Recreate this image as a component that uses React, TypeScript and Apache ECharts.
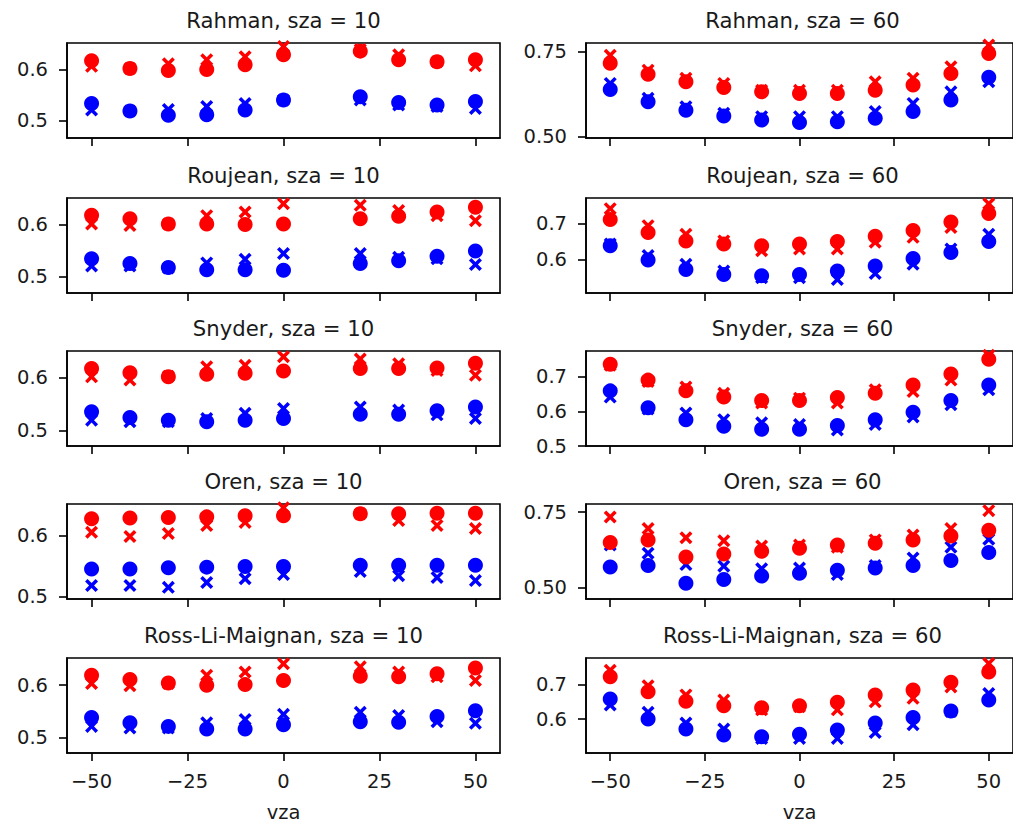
import React, { useEffect, useRef } from "react";
import * as echarts from "echarts";

// ---------- data ----------
const VZA_10 = [-50, -40, -30, -20, -10, 0, 20, 30, 40, 50];
const VZA_60 = [-50, -40, -30, -20, -10, 0, 10, 20, 30, 40, 50];
const MODELS = ["Rahman", "Roujean", "Snyder", "Oren", "Ross-Li-Maignan"];
const SZAS = [10, 60];
const X_TICKS = [-50, -25, 0, 25, 50];

// sza = 10
const rahman10RedDot = [0.618, 0.603, 0.599, 0.601, 0.61, 0.63, 0.637, 0.62, 0.616, 0.62];
const rahman10RedCross = [0.607, 0.603, 0.612, 0.62, 0.626, 0.646, 0.64, 0.63, 0.616, 0.608];
const rahman10BlueDot = [0.534, 0.519, 0.511, 0.512, 0.521, 0.541, 0.547, 0.536, 0.531, 0.538];
const rahman10BlueCross = [0.521, 0.519, 0.522, 0.528, 0.534, 0.541, 0.541, 0.531, 0.528, 0.524];

const roujean10RedDot = [0.619, 0.612, 0.602, 0.602, 0.601, 0.602, 0.612, 0.617, 0.625, 0.634];
const roujean10RedCross = [0.602, 0.599, 0.602, 0.618, 0.625, 0.641, 0.638, 0.628, 0.618, 0.608];
const roujean10BlueDot = [0.535, 0.526, 0.518, 0.514, 0.514, 0.513, 0.526, 0.531, 0.54, 0.55];
const roujean10BlueCross = [0.521, 0.521, 0.517, 0.527, 0.534, 0.545, 0.545, 0.538, 0.535, 0.524];

const snyder10RedDot = [0.618, 0.61, 0.602, 0.607, 0.609, 0.613, 0.618, 0.618, 0.619, 0.628];
const snyder10RedCross = [0.602, 0.596, 0.603, 0.621, 0.624, 0.64, 0.636, 0.627, 0.614, 0.605];
const snyder10BlueDot = [0.536, 0.525, 0.52, 0.517, 0.52, 0.523, 0.531, 0.531, 0.538, 0.545];
const snyder10BlueCross = [0.52, 0.517, 0.517, 0.523, 0.533, 0.542, 0.545, 0.539, 0.53, 0.523];

const oren10RedDot = [0.627, 0.628, 0.629, 0.63, 0.632, 0.632, 0.635, 0.635, 0.636, 0.636];
const oren10RedCross = [0.605, 0.598, 0.603, 0.616, 0.621, 0.645, 0.635, 0.624, 0.616, 0.611];
const oren10BlueDot = [0.545, 0.545, 0.547, 0.548, 0.549, 0.549, 0.551, 0.551, 0.551, 0.551];
const oren10BlueCross = [0.518, 0.518, 0.515, 0.523, 0.529, 0.536, 0.541, 0.534, 0.531, 0.526];

const rlm10RedDot = [0.619, 0.611, 0.604, 0.6, 0.601, 0.609, 0.617, 0.616, 0.622, 0.633];
const rlm10RedCross = [0.603, 0.599, 0.603, 0.619, 0.625, 0.641, 0.635, 0.625, 0.616, 0.609];
const rlm10BlueDot = [0.538, 0.528, 0.521, 0.516, 0.516, 0.524, 0.53, 0.529, 0.54, 0.551];
const rlm10BlueCross = [0.521, 0.518, 0.518, 0.528, 0.534, 0.544, 0.548, 0.542, 0.53, 0.527];

// sza = 60
const rahman60RedDot = [0.716, 0.684, 0.662, 0.645, 0.632, 0.627, 0.627, 0.637, 0.652, 0.686, 0.745];
const rahman60RedCross = [0.74, 0.696, 0.672, 0.657, 0.637, 0.637, 0.637, 0.662, 0.672, 0.706, 0.77];
const rahman60BlueDot = [0.639, 0.603, 0.578, 0.561, 0.549, 0.542, 0.544, 0.554, 0.574, 0.608, 0.675];
const rahman60BlueCross = [0.657, 0.613, 0.588, 0.569, 0.559, 0.559, 0.559, 0.574, 0.598, 0.632, 0.662];

const roujean60RedDot = [0.712, 0.676, 0.652, 0.643, 0.638, 0.643, 0.65, 0.665, 0.681, 0.705, 0.729];
const roujean60RedCross = [0.743, 0.695, 0.671, 0.652, 0.624, 0.629, 0.629, 0.648, 0.662, 0.69, 0.757];
const roujean60BlueDot = [0.638, 0.598, 0.571, 0.557, 0.554, 0.557, 0.567, 0.581, 0.602, 0.619, 0.65];
const roujean60BlueCross = [0.643, 0.611, 0.586, 0.567, 0.548, 0.548, 0.543, 0.56, 0.586, 0.629, 0.671];

const snyder60RedDot = [0.736, 0.69, 0.659, 0.641, 0.631, 0.631, 0.64, 0.652, 0.676, 0.708, 0.75];
const snyder60RedCross = [0.733, 0.686, 0.67, 0.652, 0.624, 0.638, 0.624, 0.662, 0.657, 0.69, 0.762];
const snyder60BlueDot = [0.659, 0.61, 0.576, 0.557, 0.548, 0.548, 0.559, 0.576, 0.597, 0.631, 0.676];
const snyder60BlueCross = [0.641, 0.607, 0.595, 0.576, 0.567, 0.562, 0.546, 0.562, 0.584, 0.619, 0.662];

const oren60RedDot = [0.649, 0.658, 0.601, 0.611, 0.62, 0.63, 0.641, 0.647, 0.658, 0.671, 0.69];
const oren60RedCross = [0.734, 0.696, 0.665, 0.655, 0.638, 0.641, 0.634, 0.658, 0.674, 0.696, 0.755];
const oren60BlueDot = [0.568, 0.573, 0.514, 0.527, 0.538, 0.547, 0.557, 0.565, 0.573, 0.59, 0.616];
const oren60BlueCross = [0.641, 0.614, 0.576, 0.571, 0.562, 0.565, 0.543, 0.573, 0.598, 0.634, 0.66];

const rlm60RedDot = [0.722, 0.679, 0.652, 0.639, 0.633, 0.639, 0.649, 0.67, 0.684, 0.706, 0.736];
const rlm60RedCross = [0.741, 0.696, 0.67, 0.655, 0.627, 0.636, 0.627, 0.65, 0.66, 0.693, 0.76];
const rlm60BlueDot = [0.658, 0.601, 0.572, 0.555, 0.55, 0.557, 0.569, 0.589, 0.605, 0.624, 0.655];
const rlm60BlueCross = [0.641, 0.62, 0.589, 0.572, 0.545, 0.545, 0.545, 0.562, 0.584, 0.622, 0.674];

// y-axis limits and ticks per panel
const Y_LIMITS_10 = [[0.466, 0.653], [0.469, 0.652], [0.471, 0.651], [0.496, 0.651], [0.47, 0.652]];
const Y_LIMITS_60 = [[0.496, 0.776], [0.505, 0.773], [0.5, 0.774], [0.462, 0.777], [0.503, 0.776]];
const Y_TICKS_10 = [[0.5, 0.6], [0.5, 0.6], [0.5, 0.6], [0.5, 0.6], [0.5, 0.6]];
const Y_TICKS_60 = [[0.5, 0.75], [0.6, 0.7], [0.5, 0.6, 0.7], [0.5, 0.75], [0.6, 0.7]];
const Y_DECIMALS_60 = [2, 1, 1, 2, 1];

const DATA_10 = [
  [rahman10BlueDot, rahman10BlueCross, rahman10RedDot, rahman10RedCross],
  [roujean10BlueDot, roujean10BlueCross, roujean10RedDot, roujean10RedCross],
  [snyder10BlueDot, snyder10BlueCross, snyder10RedDot, snyder10RedCross],
  [oren10BlueDot, oren10BlueCross, oren10RedDot, oren10RedCross],
  [rlm10BlueDot, rlm10BlueCross, rlm10RedDot, rlm10RedCross],
];
const DATA_60 = [
  [rahman60BlueDot, rahman60BlueCross, rahman60RedDot, rahman60RedCross],
  [roujean60BlueDot, roujean60BlueCross, roujean60RedDot, roujean60RedCross],
  [snyder60BlueDot, snyder60BlueCross, snyder60RedDot, snyder60RedCross],
  [oren60BlueDot, oren60BlueCross, oren60RedDot, oren60RedCross],
  [rlm60BlueDot, rlm60BlueCross, rlm60RedDot, rlm60RedCross],
];

// ---------- layout / style ----------
const ROW_TOPS = [43, 198, 351, 504, 658];
const GRID_H = 95;
const COL_LEFTS = [67, 586];
const GRID_W = 433;
const X_MIN = -56.4;
const X_MAX = 56.4;
const FONT = "DejaVu Sans";
const FS = 19.5;
const TITLE_FS = 21.2;
const TXT = "#1a1a1a";
const SERIES_STYLE = [
  { color: "#0000ff", cross: false, name: "blue ●" },
  { color: "#0000ff", cross: true, name: "blue ×" },
  { color: "#ff0000", cross: false, name: "red ●" },
  { color: "#ff0000", cross: true, name: "red ×" },
];
const CROSS =
  "path://M0,1.9L1.9,0L5,3.1L8.1,0L10,1.9L6.9,5L10,8.1L8.1,10L5,6.9L1.9,10L0,8.1L3.1,5Z";

const fmtX = (v: number) => (v < 0 ? "\u2212" + Math.abs(v) : String(v));

function buildOption() {
  const grids: any[] = [];
  const xAxes: any[] = [];
  const yAxes: any[] = [];
  const series: any[] = [];
  const graphic: any[] = [];

  let idx = 0;
  for (let c = 0; c < 2; c++) {
    for (let r = 0; r < MODELS.length; r++) {
      const vza = c === 0 ? VZA_10 : VZA_60;
      const data = c === 0 ? DATA_10[r] : DATA_60[r];
      const lim = c === 0 ? Y_LIMITS_10[r] : Y_LIMITS_60[r];
      const ticks = c === 0 ? Y_TICKS_10[r] : Y_TICKS_60[r];
      const dec = c === 0 ? 1 : Y_DECIMALS_60[r];
      const bottom = r === MODELS.length - 1;

      grids.push({
        left: COL_LEFTS[c],
        top: ROW_TOPS[r],
        width: GRID_W,
        height: GRID_H,
        show: true,
        borderColor: "#000",
        borderWidth: 1.6,
        backgroundColor: "#fff",
      });
      xAxes.push({
        type: "value",
        gridIndex: idx,
        min: X_MIN,
        max: X_MAX,
        axisLine: { show: true, onZero: false, lineStyle: { color: "#000", width: 1.6 } },
        axisTick: {
          show: true,
          customValues: X_TICKS,
          length: 8,
          lineStyle: { color: "#000", width: 1.6 },
        },
        axisLabel: {
          show: bottom,
          customValues: X_TICKS,
          formatter: fmtX,
          fontFamily: FONT,
          fontSize: FS,
          color: TXT,
          margin: 18,
        },
        splitLine: { show: false },
        name: bottom ? "vza" : "",
        nameLocation: "middle",
        nameGap: 49,
        nameTextStyle: { fontFamily: FONT, fontSize: FS, color: TXT },
      });
      yAxes.push({
        type: "value",
        gridIndex: idx,
        min: lim[0],
        max: lim[1],
        axisLine: { show: true, onZero: false, lineStyle: { color: "#000", width: 1.6 } },
        axisTick: {
          show: true,
          customValues: ticks,
          length: 8,
          lineStyle: { color: "#000", width: 1.6 },
        },
        axisLabel: {
          show: true,
          customValues: ticks,
          formatter: (v: number) => v.toFixed(dec),
          fontFamily: FONT,
          fontSize: FS,
          color: TXT,
          margin: 19,
        },
        splitLine: { show: false },
      });
      data.forEach((vals, k) => {
        const st = SERIES_STYLE[k];
        series.push({
          type: "scatter",
          name: `${MODELS[r]} sza=${SZAS[c]} ${st.name}`,
          xAxisIndex: idx,
          yAxisIndex: idx,
          data: vals.map((v, i) => [vza[i], v]),
          symbol: st.cross ? CROSS : "circle",
          symbolSize: st.cross ? 13 : 15,
          itemStyle: { color: st.color, opacity: 1 },
          clip: true,
          z: 2,
        });
      });
      graphic.push({
        type: "text",
        x: COL_LEFTS[c] + GRID_W / 2,
        y: ROW_TOPS[r] - 23,
        style: {
          text: `${MODELS[r]}, sza = ${SZAS[c]}`,
          fontFamily: FONT,
          fontSize: TITLE_FS,
          fill: TXT,
          align: "center",
          verticalAlign: "middle",
        },
      });
      idx++;
    }
  }

  return {
    animation: false,
    backgroundColor: "#fff",
    grid: grids,
    xAxis: xAxes,
    yAxis: yAxes,
    series,
    graphic,
    tooltip: { show: false },
  };
}

export default function App() {
  const ref = useRef<HTMLDivElement>(null);
  useEffect(() => {
    if (!ref.current) return;
    const chart = echarts.init(ref.current, undefined, { renderer: "svg" });
    chart.setOption(buildOption());
    return () => chart.dispose();
  }, []);
  return (
    <div
      ref={ref}
      style={{ position: "absolute", left: 0, top: 0, width: 1013, height: 825, background: "#fff" }}
    />
  );
}
